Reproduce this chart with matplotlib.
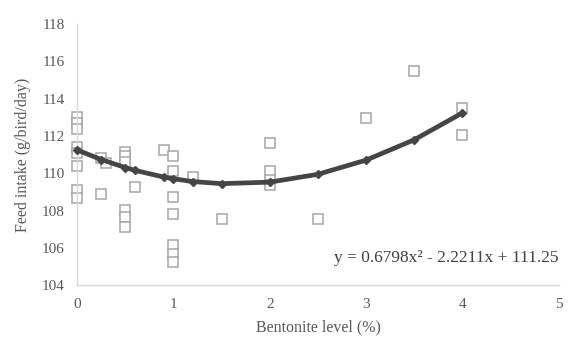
import matplotlib
matplotlib.use("Agg")
import matplotlib.pyplot as plt

# observed data (bentonite level %, feed intake g/bird/day)
level = [0, 0, 0, 0, 0, 0, 0, 0,
         0.25, 0.3, 0.25,
         0.5, 0.5, 0.5, 0.5, 0.5, 0.5,
         0.6, 0.9,
         1, 1, 1, 1, 1, 1, 1,
         1.2, 1.5,
         2, 2, 2, 2,
         2.5, 3, 3.5, 4, 4]
intake = [113.0, 112.7, 112.4, 111.4, 111.1, 110.4, 109.1, 108.7,
          110.8, 110.55, 108.9,
          111.15, 110.95, 110.6, 108.05, 107.65, 107.15,
          109.25, 111.25,
          110.95, 110.15, 108.75, 107.8, 106.15, 105.7, 105.25,
          109.8, 107.55,
          111.65, 110.15, 109.65, 109.4,
          107.55, 112.95, 115.5, 113.5, 112.05]

# predicted values of the quadratic trend at each level
fit_x = [0, 0.25, 0.5, 0.6, 0.9, 1, 1.2, 1.5, 2, 2.5, 3, 3.5, 4]
fit_y = [111.25, 110.74, 110.31, 110.16, 109.80, 109.71, 109.56, 109.45,
         109.53, 109.95, 110.71, 111.80, 113.24]

plt.rcParams['font.family'] = ['Liberation Serif', 'DejaVu Serif']

fig = plt.figure(figsize=(5.76, 3.43), dpi=100)
ax = fig.add_axes([0.134, 0.168, 0.836, 0.762])

ax.plot(level, intake, 's', markersize=7, markerfacecolor='white',
        markeredgecolor='#a6a6a6', markeredgewidth=1.1, zorder=2,
        clip_on=False)
ax.plot(fit_x, fit_y, '-D', color='#454545', linewidth=3.4, markersize=4.5,
        zorder=3, clip_on=False)

ax.set_xlim(0, 5)
ax.set_ylim(104, 118)
ax.set_xticks(range(0, 6))
ax.set_yticks(range(104, 119, 2))
ax.tick_params(length=0, labelsize=11, colors='#595959', pad=9)

for s in ['top', 'right']:
    ax.spines[s].set_visible(False)
for s in ['left', 'bottom']:
    ax.spines[s].set_color('#d9d9d9')
    ax.spines[s].set_linewidth(1)

ax.set_xlabel('Bentonite level (%)', fontsize=11.5, color='#595959', labelpad=6)
ax.set_ylabel('Feed intake (g/bird/day)', fontsize=11.5, color='#595959', labelpad=8)

ax.text(1.0, 0.105, 'y = 0.6798x\u00b2 - 2.2211x + 111.25', transform=ax.transAxes,
        ha='right', va='center', fontsize=12.5, color='#404040')

fig.savefig('out.png', dpi=100)
